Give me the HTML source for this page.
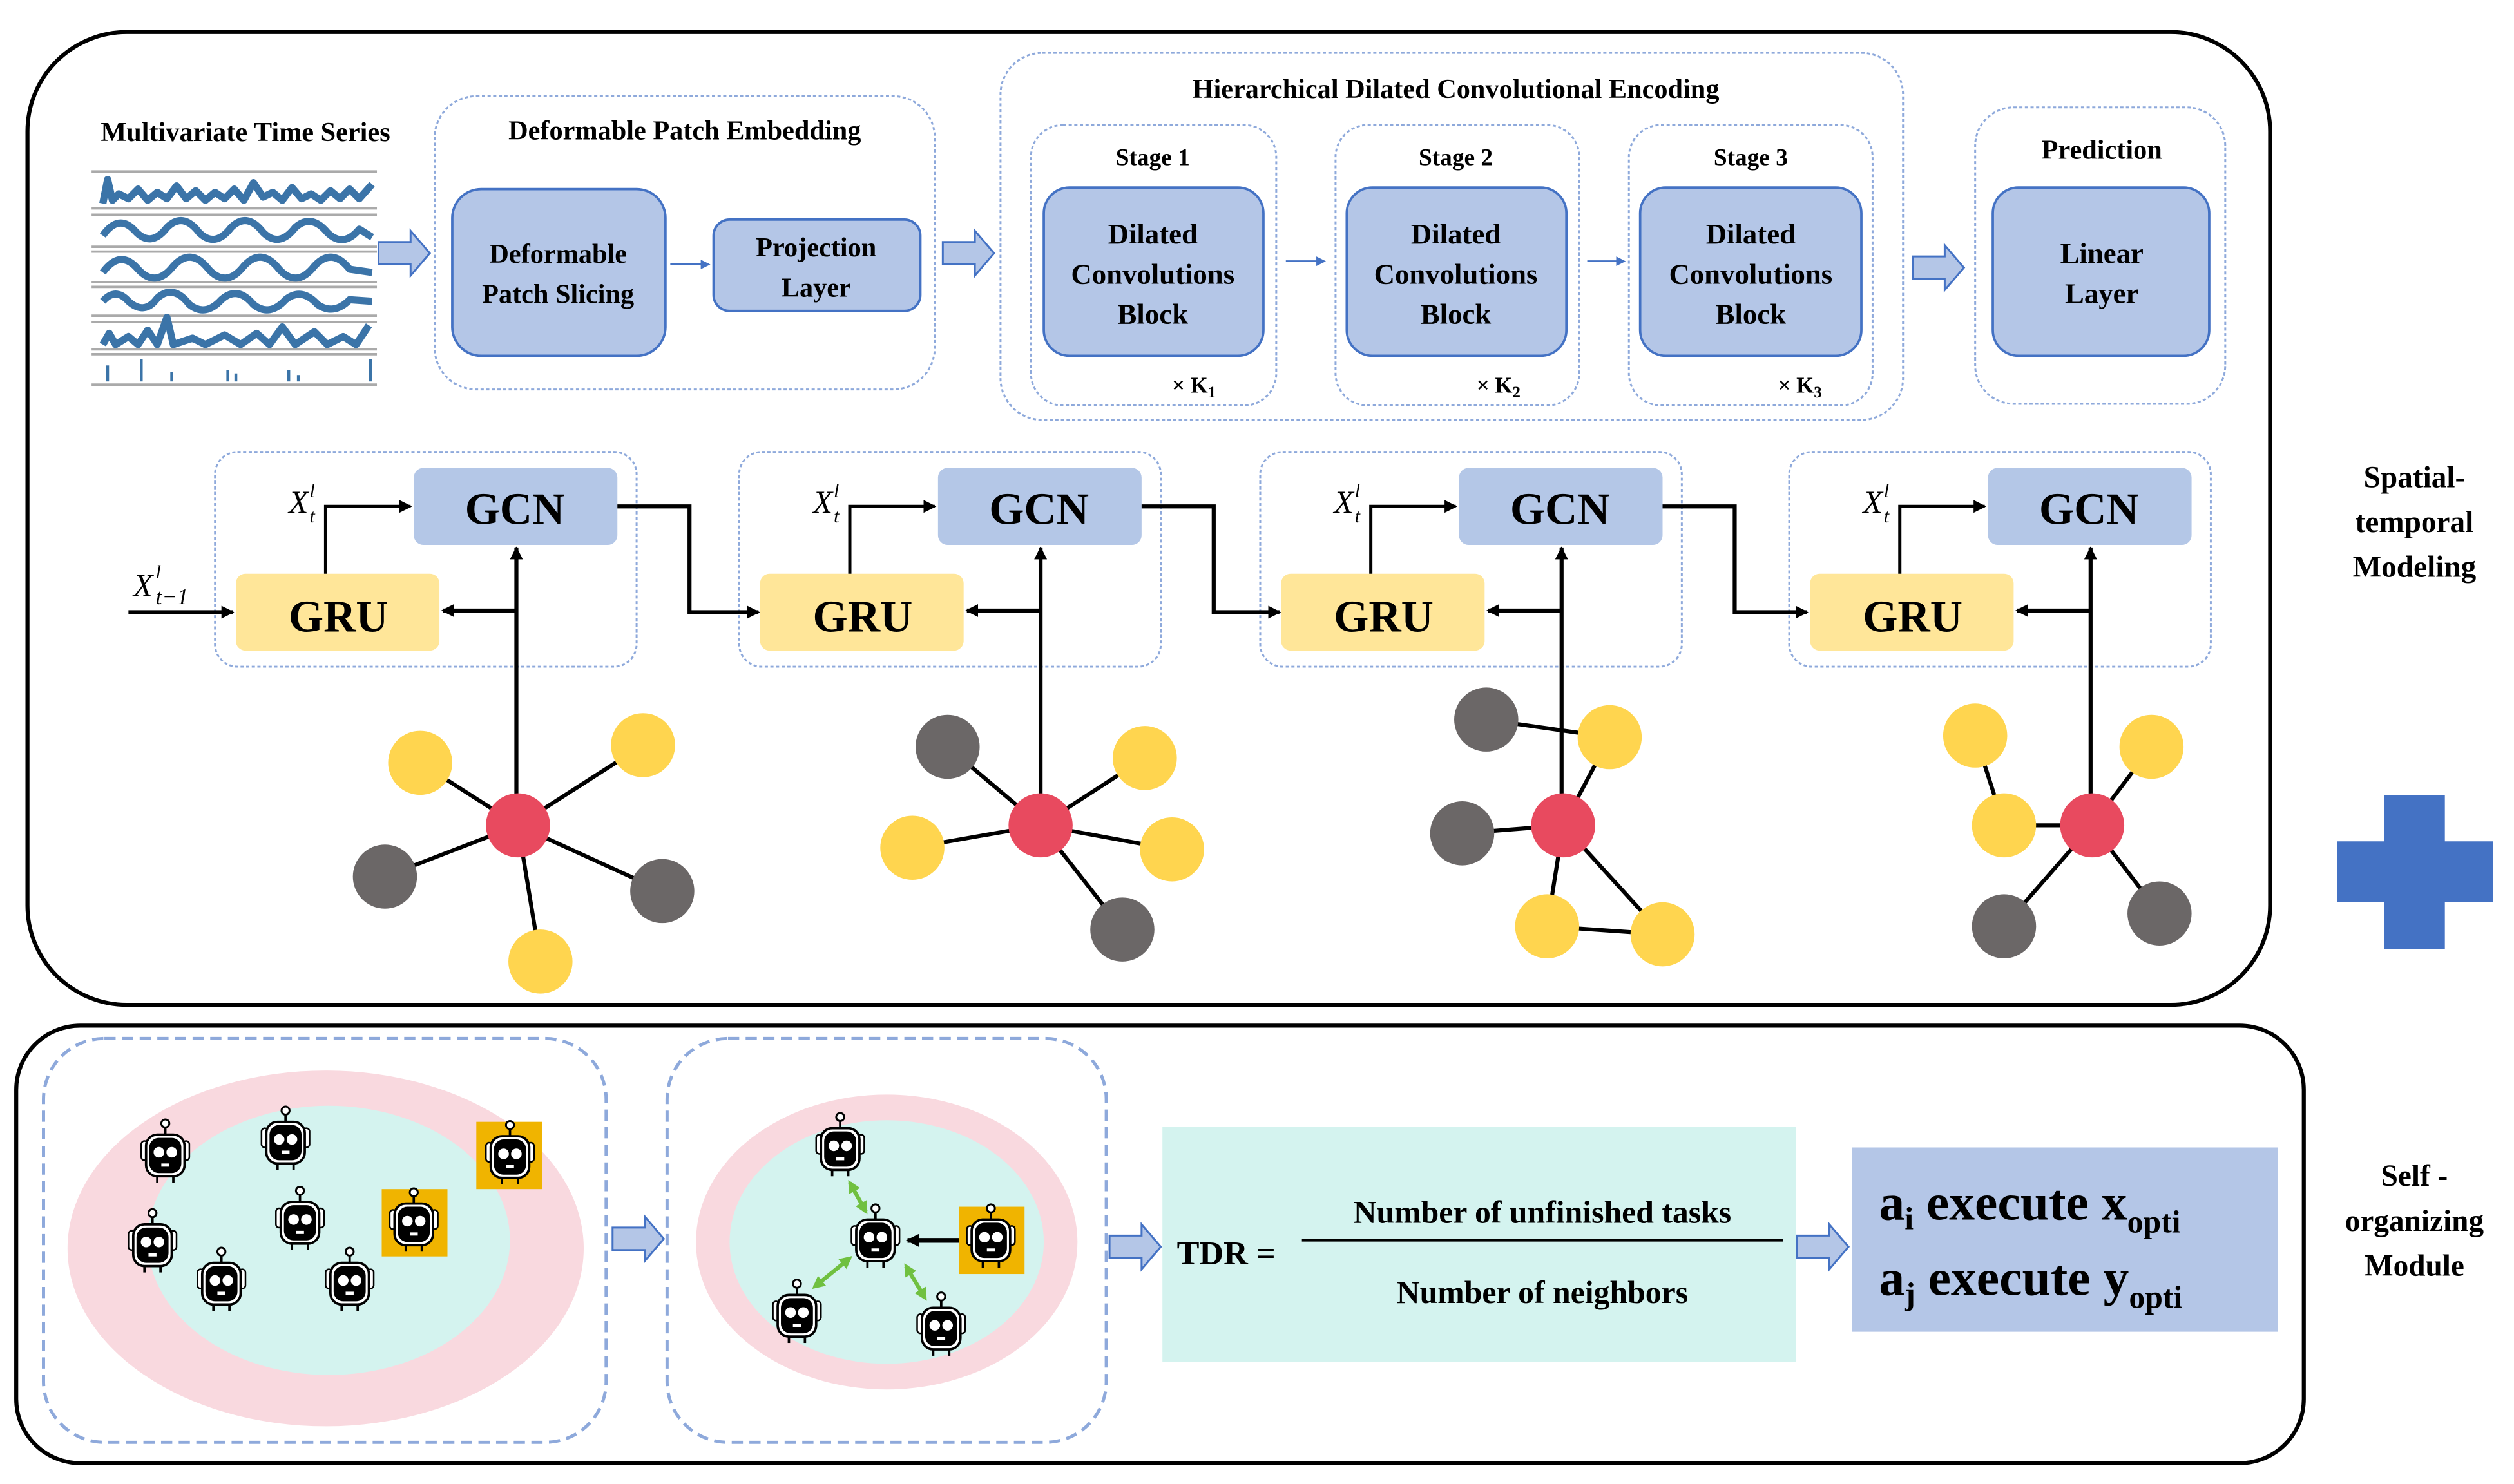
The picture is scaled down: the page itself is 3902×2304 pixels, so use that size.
<!DOCTYPE html>
<html><head><meta charset="utf-8"><style>
html,body{margin:0;padding:0;background:#fff;}
svg{display:block;font-family:"Liberation Serif","Times New Roman","DejaVu Serif",serif;}
svg text{font-family:"Liberation Serif","Times New Roman","DejaVu Serif",serif !important;font-weight:bold;fill:#000;}
</style></head><body>
<svg width="3902" height="2304" viewBox="0 0 1568 926" xmlns="http://www.w3.org/2000/svg" font-family="Liberation Serif, serif">
<defs>
<marker id="ah" markerWidth="8" markerHeight="8" refX="7" refY="4" orient="auto" markerUnits="userSpaceOnUse"><path d="M0,0 L8,4 L0,8 z" fill="#000"/></marker>
<marker id="ahb" markerWidth="6" markerHeight="6" refX="5" refY="3" orient="auto" markerUnits="userSpaceOnUse"><path d="M0,0 L6,3 L0,6 z" fill="#4472c4"/></marker>
<marker id="ahg" markerWidth="8" markerHeight="8" refX="6" refY="4" orient="auto-start-reverse" markerUnits="userSpaceOnUse"><path d="M0,0 L8,4 L0,8 z" fill="#70c040"/></marker>
<g id="fat"><path d="M0,-7 L20,-7 L20,-14 L32,0 L20,14 L20,7 L0,7 z" fill="#b4c6e7" stroke="#4472c4" stroke-width="1.2"/></g>
<g id="robot">
<line x1="0" y1="-20" x2="0" y2="-13" stroke="#000" stroke-width="1.5"/>
<circle cx="0" cy="-21" r="2.5" fill="#fff" stroke="#000" stroke-width="1.2"/>
<rect x="-15" y="-10" width="4" height="12" rx="2" fill="#fff" stroke="#000"/>
<rect x="11" y="-10" width="4" height="12" rx="2" fill="#fff" stroke="#000"/>
<rect x="-12" y="-14" width="24" height="26" rx="7" fill="#fff" stroke="#000" stroke-width="1.5"/>
<rect x="-10" y="-12" width="20" height="22" rx="6" fill="#000"/>
<circle cx="-4" cy="-3" r="3.3" fill="#fff"/><circle cx="4" cy="-3" r="3.3" fill="#fff"/>
<rect x="-2.5" y="4" width="5" height="2" fill="#fff"/>
<line x1="-5" y1="12" x2="-5" y2="16" stroke="#000" stroke-width="1.5"/>
<line x1="5" y1="12" x2="5" y2="16" stroke="#000" stroke-width="1.5"/>
</g>
</defs>

<rect x="17" y="20" width="1399" height="607" rx="62" fill="none" stroke="#000" stroke-width="2.5"/>
<rect x="10" y="640" width="1427" height="273" rx="40" fill="none" stroke="#000" stroke-width="2.5"/>

<text x="153" y="88" font-size="17" text-anchor="middle">Multivariate Time Series</text>
<g stroke="#aaa" stroke-width="1.5">
<line x1="57" y1="107" x2="235" y2="107"/><line x1="57" y1="130" x2="235" y2="130"/><line x1="57" y1="134" x2="235" y2="134"/>
<line x1="57" y1="154" x2="235" y2="154"/><line x1="57" y1="157" x2="235" y2="157"/><line x1="57" y1="176" x2="235" y2="176"/>
<line x1="57" y1="179" x2="235" y2="179"/><line x1="57" y1="197" x2="235" y2="197"/><line x1="57" y1="201" x2="235" y2="201"/>
<line x1="57" y1="218" x2="235" y2="218"/><line x1="57" y1="221" x2="235" y2="221"/><line x1="57" y1="240" x2="235" y2="240"/>
</g>
<g fill="none" stroke="#3b74a8" stroke-width="4.5" stroke-linejoin="round">
<path d="M64,127 L67,112 L70,125 L74,121 L80,124 L86,118 L92,125 L98,120 L104,124 L110,116 L116,124 L122,119 L128,125 L134,120 L140,124 L146,118 L152,125 L158,114 L164,123 L170,120 L176,125 L182,117 L188,124 L194,121 L200,125 L206,119 L212,124 L218,118 L224,124 L232,115"/>
<path d="M64,147 Q74,133 84,144 Q94,155 104,142 Q114,132 124,145 Q134,155 144,142 Q154,132 164,145 Q174,155 184,142 Q194,133 204,145 Q214,155 224,143 L232,148"/>
<path d="M64,170 Q75,155 86,168 Q97,180 108,166 Q119,154 130,168 Q141,180 152,166 Q163,154 174,168 Q185,180 196,166 Q207,154 218,168 L232,170"/>
<path d="M64,188 Q72,179 80,188 Q90,197 98,186 Q108,177 118,190 Q128,198 138,187 Q148,178 158,190 Q168,198 178,187 Q188,179 198,190 Q208,197 218,187 L232,188"/>
<path d="M64,215 L68,208 L72,215 L80,210 L86,215 L92,206 L98,215 L104,198 L108,215 L120,211 L128,215 L140,209 L150,215 L160,208 L168,215 L176,204 L184,215 L196,207 L204,215 L214,210 L222,215 L230,203"/>
</g>
<g stroke="#3b74a8" stroke-width="1.8"><line x1="67" y1="238" x2="67" y2="228"/><line x1="88" y1="238" x2="88" y2="224"/><line x1="107" y1="238" x2="107" y2="232"/><line x1="142" y1="238" x2="142" y2="231"/><line x1="147" y1="238" x2="147" y2="233"/><line x1="180" y1="238" x2="180" y2="231"/><line x1="186" y1="238" x2="186" y2="234"/><line x1="231" y1="238" x2="231" y2="224"/></g>
<use href="#fat" x="236" y="158"/>

<rect x="271" y="60" width="312" height="183" rx="26" fill="none" stroke="#8ea9db" stroke-width="1.2" stroke-dasharray="2,1.5"/>
<text x="427" y="87" font-size="17" text-anchor="middle">Deformable Patch Embedding</text>
<rect x="282" y="118" width="133" height="104" rx="18" fill="#b4c6e7" stroke="#4472c4" stroke-width="1.5"/>
<text x="348" y="164" font-size="17" text-anchor="middle">Deformable</text>
<text x="348" y="189" font-size="17" text-anchor="middle">Patch Slicing</text>
<line x1="418" y1="165" x2="442" y2="165" stroke="#4472c4" stroke-width="1.2" marker-end="url(#ahb)"/>
<rect x="445" y="137" width="129" height="57" rx="10" fill="#b4c6e7" stroke="#4472c4" stroke-width="1.5"/>
<text x="509" y="160" font-size="17" text-anchor="middle">Projection</text>
<text x="509" y="185" font-size="17" text-anchor="middle">Layer</text>
<use href="#fat" x="588" y="158"/>

<rect x="624" y="33" width="563" height="229" rx="26" fill="none" stroke="#8ea9db" stroke-width="1.2" stroke-dasharray="2,1.5"/>
<text x="908" y="61" font-size="17" text-anchor="middle">Hierarchical Dilated Convolutional Encoding</text>
<g>
<rect x="643" y="78" width="153" height="175" rx="20" fill="none" stroke="#8ea9db" stroke-width="1.2" stroke-dasharray="2,1.5"/>
<rect x="833" y="78" width="152" height="175" rx="20" fill="none" stroke="#8ea9db" stroke-width="1.2" stroke-dasharray="2,1.5"/>
<rect x="1016" y="78" width="152" height="175" rx="20" fill="none" stroke="#8ea9db" stroke-width="1.2" stroke-dasharray="2,1.5"/>
<text x="719" y="103" font-size="15" text-anchor="middle">Stage 1</text>
<text x="908" y="103" font-size="15" text-anchor="middle">Stage 2</text>
<text x="1092" y="103" font-size="15" text-anchor="middle">Stage 3</text>
<rect x="651" y="117" width="137" height="105" rx="16" fill="#b4c6e7" stroke="#4472c4" stroke-width="1.5"/>
<rect x="840" y="117" width="137" height="105" rx="16" fill="#b4c6e7" stroke="#4472c4" stroke-width="1.5"/>
<rect x="1023" y="117" width="138" height="105" rx="16" fill="#b4c6e7" stroke="#4472c4" stroke-width="1.5"/>
<g font-size="18" text-anchor="middle">
<text x="719" y="152">Dilated</text><text x="719" y="177">Convolutions</text><text x="719" y="202">Block</text>
<text x="908" y="152">Dilated</text><text x="908" y="177">Convolutions</text><text x="908" y="202">Block</text>
<text x="1092" y="152">Dilated</text><text x="1092" y="177">Convolutions</text><text x="1092" y="202">Block</text>
</g>
<text x="731" y="245" font-size="14">× K<tspan font-size="10" dy="3">1</tspan></text>
<text x="921" y="245" font-size="14">× K<tspan font-size="10" dy="3">2</tspan></text>
<text x="1109" y="245" font-size="14">× K<tspan font-size="10" dy="3">3</tspan></text>
<line x1="802" y1="163" x2="826" y2="163" stroke="#4472c4" stroke-width="1.2" marker-end="url(#ahb)"/>
<line x1="990" y1="163" x2="1013" y2="163" stroke="#4472c4" stroke-width="1.2" marker-end="url(#ahb)"/>
</g>
<use href="#fat" x="1193" y="167"/>

<rect x="1232" y="67" width="156" height="185" rx="24" fill="none" stroke="#8ea9db" stroke-width="1.2" stroke-dasharray="2,1.5"/>
<text x="1311" y="99" font-size="17" text-anchor="middle">Prediction</text>
<rect x="1243" y="117" width="135" height="105" rx="16" fill="#b4c6e7" stroke="#4472c4" stroke-width="1.5"/>
<text x="1311" y="164" font-size="18" text-anchor="middle">Linear</text>
<text x="1311" y="189" font-size="18" text-anchor="middle">Layer</text>

<g id="cell">
<rect x="134" y="282" width="263" height="134" rx="14" fill="none" stroke="#8ea9db" stroke-width="1.2" stroke-dasharray="2,1.5"/>
<rect x="258" y="292" width="127" height="48" rx="6" fill="#b4c7e7"/>
<text x="321" y="327" font-size="28" text-anchor="middle">GCN</text>
<rect x="147" y="358" width="127" height="48" rx="6" fill="#ffe699"/>
<text x="211" y="394" font-size="28" text-anchor="middle">GRU</text>
<text x="180" y="320" font-size="20" font-style="italic" style="font-weight:normal">X</text>
<text x="193" y="310" font-size="12" font-style="italic" style="font-weight:normal">l</text>
<text x="193" y="326" font-size="12" font-style="italic" style="font-weight:normal">t</text>
<polyline points="203,358 203,316 256,316" fill="none" stroke="#000" stroke-width="2" marker-end="url(#ah)"/>
<line x1="322" y1="500" x2="322" y2="342" stroke="#000" stroke-width="2.5" marker-end="url(#ah)"/>
<line x1="322" y1="381" x2="276" y2="381" stroke="#000" stroke-width="2.5" marker-end="url(#ah)"/>
</g>
<use href="#cell" x="327"/>
<use href="#cell" x="652"/>
<use href="#cell" x="982"/>
<polyline points="385,316 430,316 430,382 473,382" fill="none" stroke="#000" stroke-width="2.5" marker-end="url(#ah)"/>
<polyline points="712,316 757,316 757,382 798,382" fill="none" stroke="#000" stroke-width="2.5" marker-end="url(#ah)"/>
<polyline points="1037,316 1082,316 1082,382 1127,382" fill="none" stroke="#000" stroke-width="2.5" marker-end="url(#ah)"/>
<line x1="80" y1="382" x2="145" y2="382" stroke="#000" stroke-width="2.5" marker-end="url(#ah)"/>
<text x="83" y="372" font-size="20" font-style="italic" style="font-weight:normal">X</text>
<text x="97" y="361" font-size="12" font-style="italic" style="font-weight:normal">l</text>
<text x="97" y="377" font-size="14" font-style="italic" style="font-weight:normal">t−1</text>

<g stroke="#000" stroke-width="2.5">
<line x1="323" y1="515" x2="262" y2="476"/><line x1="323" y1="515" x2="401" y2="465"/><line x1="323" y1="515" x2="240" y2="547"/><line x1="323" y1="515" x2="413" y2="556"/><line x1="323" y1="515" x2="337" y2="600"/>
<line x1="649" y1="515" x2="591" y2="466"/><line x1="649" y1="515" x2="714" y2="473"/><line x1="649" y1="515" x2="569" y2="529"/><line x1="649" y1="515" x2="731" y2="530"/><line x1="649" y1="515" x2="700" y2="580"/>
<line x1="975" y1="515" x2="1004" y2="460"/><line x1="927" y1="449" x2="1004" y2="460"/><line x1="975" y1="515" x2="912" y2="520"/><line x1="975" y1="515" x2="965" y2="578"/><line x1="965" y1="578" x2="1037" y2="583"/><line x1="975" y1="515" x2="1037" y2="583"/>
<line x1="1232" y1="459" x2="1250" y2="515"/><line x1="1250" y1="515" x2="1305" y2="515"/><line x1="1305" y1="515" x2="1342" y2="466"/><line x1="1305" y1="515" x2="1250" y2="578"/><line x1="1305" y1="515" x2="1347" y2="570"/>
</g>
<g fill="#ffd54f">
<circle cx="262" cy="476" r="20"/><circle cx="401" cy="465" r="20"/><circle cx="337" cy="600" r="20"/>
<circle cx="714" cy="473" r="20"/><circle cx="569" cy="529" r="20"/><circle cx="731" cy="530" r="20"/>
<circle cx="1004" cy="460" r="20"/><circle cx="965" cy="578" r="20"/><circle cx="1037" cy="583" r="20"/>
<circle cx="1232" cy="459" r="20"/><circle cx="1342" cy="466" r="20"/><circle cx="1250" cy="515" r="20"/>
</g>
<g fill="#6b6767">
<circle cx="240" cy="547" r="20"/><circle cx="413" cy="556" r="20"/>
<circle cx="591" cy="466" r="20"/><circle cx="700" cy="580" r="20"/>
<circle cx="927" cy="449" r="20"/><circle cx="912" cy="520" r="20"/>
<circle cx="1250" cy="578" r="20"/><circle cx="1347" cy="570" r="20"/>
</g>
<g fill="#e84a5f">
<circle cx="323" cy="515" r="20"/><circle cx="649" cy="515" r="20"/><circle cx="975" cy="515" r="20"/><circle cx="1305" cy="515" r="20"/>
</g>

<g font-size="19" text-anchor="middle">
<text x="1506" y="304">Spatial-</text><text x="1506" y="332">temporal</text><text x="1506" y="360">Modeling</text>
<text x="1506" y="740">Self -</text><text x="1506" y="768">organizing</text><text x="1506" y="796">Module</text>
</g>
<path d="M1487,496 H1525 V525 H1555 V563 H1525 V592 H1487 V563 H1458 V525 H1487 z" fill="#4472c4"/>

<rect x="27" y="648" width="351" height="252" rx="38" fill="none" stroke="#8ea9db" stroke-width="2" stroke-dasharray="7,4"/>
<rect x="416" y="648" width="274" height="252" rx="38" fill="none" stroke="#8ea9db" stroke-width="2" stroke-dasharray="7,4"/>
<ellipse cx="203" cy="779" rx="161" ry="111" fill="#f9d9df"/>
<ellipse cx="205" cy="774" rx="113" ry="84" fill="#d4f3ef"/>
<ellipse cx="553" cy="775" rx="119" ry="92" fill="#f9d9df"/>
<ellipse cx="553" cy="775" rx="98" ry="76" fill="#d4f3ef"/>
<rect x="297" y="700" width="41" height="42" fill="#f0b400"/>
<rect x="238" y="742" width="41" height="42" fill="#f0b400"/>
<rect x="598" y="753" width="41" height="42" fill="#f0b400"/>
<use href="#robot" x="103" y="722"/><use href="#robot" x="178" y="714"/><use href="#robot" x="318" y="723"/>
<use href="#robot" x="187" y="764"/><use href="#robot" x="258" y="765"/><use href="#robot" x="95" y="778"/>
<use href="#robot" x="138" y="802"/><use href="#robot" x="218" y="802"/>
<use href="#robot" x="524" y="718"/><use href="#robot" x="546" y="775"/><use href="#robot" x="618" y="775"/>
<use href="#robot" x="497" y="822"/><use href="#robot" x="587" y="830"/>
<g stroke="#70c040" stroke-width="2.5" marker-start="url(#ahg)" marker-end="url(#ahg)">
<line x1="530" y1="738" x2="540" y2="756"/><line x1="508" y1="803" x2="530" y2="785"/><line x1="565" y1="790" x2="577" y2="810"/>
</g>
<line x1="598" y1="774" x2="566" y2="774" stroke="#000" stroke-width="3" marker-end="url(#ah)"/>
<use href="#fat" x="382" y="773"/>
<use href="#fat" x="692" y="778"/>
<rect x="725" y="703" width="395" height="147" fill="#d4f3ef"/>
<text x="734" y="789" font-size="21">TDR =</text>
<text x="962" y="763" font-size="20" text-anchor="middle">Number of unfinished tasks</text>
<line x1="812" y1="774" x2="1112" y2="774" stroke="#000" stroke-width="1.5"/>
<text x="962" y="813" font-size="20" text-anchor="middle">Number of neighbors</text>
<use href="#fat" x="1121" y="778"/>
<rect x="1155" y="716" width="266" height="115" fill="#b4c6e7"/>
<text x="1172" y="761" font-size="32">a<tspan font-size="20" dy="6">i</tspan><tspan dy="-6"> execute x</tspan><tspan font-size="20" dy="8">opti</tspan></text>
<text x="1172" y="808" font-size="32">a<tspan font-size="20" dy="6">j</tspan><tspan dy="-6"> execute y</tspan><tspan font-size="20" dy="8">opti</tspan></text>
</svg>
</body></html>
